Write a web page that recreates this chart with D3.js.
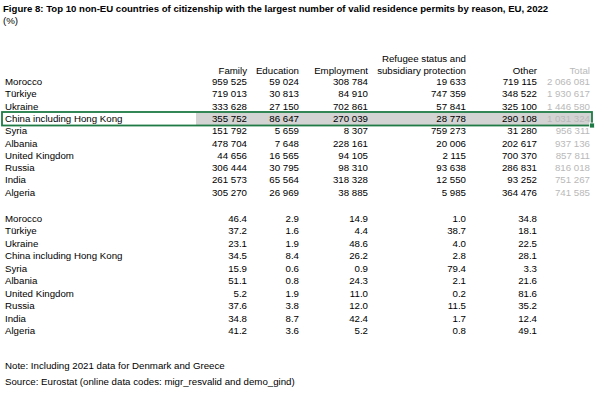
<!DOCTYPE html>
<html>
<head>
<meta charset="utf-8">
<script src="https://cdn.jsdelivr.net/npm/d3@7"></script>
<style>
  html, body { margin: 0; padding: 0; background: #fff; }
  svg { display: block; }
  text { font-family: "Liberation Sans", Arial, sans-serif; }
</style>
</head>
<body>
<svg id="chart" width="600" height="401"></svg>
<script>
// ---------- DATA ----------
const title = "Figure 8: Top 10 non-EU countries of citizenship with the largest number of valid residence permits by reason, EU, 2022";
const subtitle = "(%)";
const countries = ["Morocco", "Türkiye", "Ukraine", "China including Hong Kong", "Syria", "Albania", "United Kingdom", "Russia", "India", "Algeria"];
const family     = [959525, 719013, 333628, 355752, 151792, 478704, 44656, 306444, 261573, 305270];
const education  = [59024, 30813, 27150, 86647, 5659, 7648, 16565, 30795, 65564, 26969];
const employment = [308784, 84910, 702861, 270039, 8307, 228161, 94105, 98310, 318328, 38885];
const refugee    = [19633, 747359, 57841, 28778, 759273, 20006, 2115, 93638, 12550, 5985];
const other      = [719115, 348522, 325100, 290108, 31280, 202617, 700370, 286831, 93252, 364476];
const total      = [2066081, 1930617, 1446580, 1031324, 956311, 937136, 857811, 816018, 751267, 741585];

const familyPct     = [46.4, 37.2, 23.1, 34.5, 15.9, 51.1, 5.2, 37.6, 34.8, 41.2];
const educationPct  = [2.9, 1.6, 1.9, 8.4, 0.6, 0.8, 1.9, 3.8, 8.7, 3.6];
const employmentPct = [14.9, 4.4, 48.6, 26.2, 0.9, 24.3, 11.0, 12.0, 42.4, 5.2];
const refugeePct    = [1.0, 38.7, 4.0, 2.8, 79.4, 2.1, 0.2, 11.5, 1.7, 0.8];
const otherPct      = [34.8, 18.1, 22.5, 28.1, 3.3, 21.6, 81.6, 35.2, 12.4, 49.1];

const columnKeys = ["family", "education", "employment", "refugee", "other", "total"];
const headerLine1 = ["", "", "", "Refugee status and", "", ""];
const headerLine2 = ["Family", "Education", "Employment", "subsidiary protection", "Other", "Total"];
const highlighted = "China including Hong Kong";
const note = "Note:  Including 2021 data for Denmark and Greece";
const source = "Source: Eurostat (online data codes: migr_resvalid and demo_gind)";

// ---------- LAYOUT ----------
const svg = d3.select("#chart");
const FS = 9.7;
const ink = "#000";
const grey = "#b9b9b9";

const locale = d3.formatLocale({ decimal: ".", thousands: " ", grouping: [3], currency: ["", ""] });
const fmtInt = locale.format(",d");
const fmtPct = d3.format(".1f");

// column right edges
const colX = d3.scaleOrdinal().domain(columnKeys).range([247, 299, 368, 466, 537, 590]);
// rows
const y1 = d3.scaleLinear().domain([0, countries.length - 1]).range([85.2, 195.6]);
const y2 = d3.scaleLinear().domain([0, countries.length - 1]).range([221.5, 334]);

// title
svg.append("text").attr("x", 3).attr("y", 12)
  .attr("font-size", 9.6).attr("font-weight", "bold").attr("fill", ink).text(title);
svg.append("text").attr("x", 3).attr("y", 23.5)
  .attr("font-size", FS).attr("fill", ink).text(subtitle);

// highlight of selected row
const hi = countries.indexOf(highlighted);
const hy = y1(hi);
svg.append("rect").attr("x", 196).attr("y", hy - 9.5).attr("width", 396).attr("height", 12.5)
  .attr("fill", "#d3d3d3");
svg.append("rect").attr("x", 2).attr("y", hy - 10).attr("width", 590).attr("height", 13.5)
  .attr("fill", "none").attr("stroke", "#1f7a45").attr("stroke-width", 1.8);
svg.append("rect").attr("x", 589.5).attr("y", hy + 1).attr("width", 5).attr("height", 5)
  .attr("fill", "#1f7a45").attr("stroke", "#fff").attr("stroke-width", 0.8);

// headers
const hdr = svg.append("g").attr("font-size", FS).attr("text-anchor", "end");
hdr.selectAll("text.h1").data(columnKeys).join("text").attr("class", "h1")
  .attr("x", d => colX(d)).attr("y", 61.5).attr("fill", ink)
  .text((d, i) => headerLine1[i]);
hdr.selectAll("text.h2").data(columnKeys).join("text").attr("class", "h2")
  .attr("x", d => colX(d)).attr("y", 73.5)
  .attr("fill", d => d === "total" ? grey : ink)
  .text((d, i) => headerLine2[i]);

// table 1
const absCols = { family, education, employment, refugee, other, total };
const t1 = svg.append("g").attr("font-size", FS);
t1.selectAll("text.c").data(countries).join("text").attr("class", "c")
  .attr("x", 5).attr("y", (d, i) => y1(i)).attr("fill", ink).text(d => d);
columnKeys.forEach(k => {
  t1.append("g").attr("text-anchor", "end")
    .selectAll("text").data(absCols[k]).join("text")
    .attr("x", colX(k)).attr("y", (d, i) => y1(i))
    .attr("fill", k === "total" ? grey : ink)
    .text(d => fmtInt(d));
});

// table 2
const pctCols = { family: familyPct, education: educationPct, employment: employmentPct, refugee: refugeePct, other: otherPct };
const t2 = svg.append("g").attr("font-size", FS);
t2.selectAll("text.c").data(countries).join("text").attr("class", "c")
  .attr("x", 5).attr("y", (d, i) => y2(i)).attr("fill", ink).text(d => d);
Object.keys(pctCols).forEach(k => {
  t2.append("g").attr("text-anchor", "end")
    .selectAll("text").data(pctCols[k]).join("text")
    .attr("x", colX(k)).attr("y", (d, i) => y2(i))
    .attr("fill", ink).text(d => fmtPct(d));
});

// footnotes
svg.append("text").attr("x", 5).attr("y", 368.5).attr("font-size", FS).attr("fill", ink).text(note);
svg.append("text").attr("x", 5).attr("y", 384.5).attr("font-size", FS).attr("fill", ink).text(source);
</script>
</body>
</html>
